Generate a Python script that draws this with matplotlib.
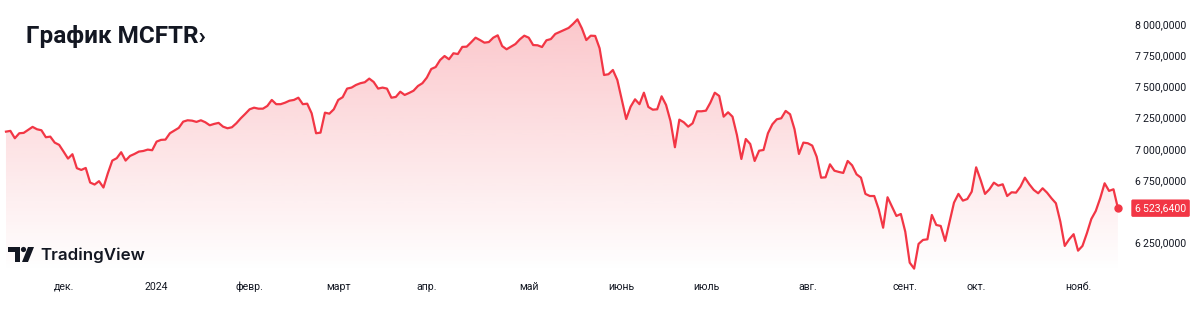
import numpy as np
import matplotlib
matplotlib.use('Agg')
import matplotlib.pyplot as plt
from matplotlib.patches import Polygon, Circle
from matplotlib.colors import to_rgb
from matplotlib.transforms import blended_transform_factory

# MCFTR daily close, mid-Nov 2023 .. mid-Nov 2024
mcftr = [
    7137, 7143, 7084, 7124, 7127, 7151, 7175, 7156, 7148, 7092, 7097, 7049, 7031, 6977,
    6921, 6956, 6844, 6830, 6846, 6729, 6713, 6740, 6689, 6804, 6905, 6924, 6972, 6905,
    6942, 6958, 6977, 6982, 6993, 6988, 7057, 7071, 7073, 7124, 7145, 7167, 7217, 7228,
    7225, 7215, 7228, 7212, 7188, 7199, 7207, 7177, 7164, 7172, 7204, 7244,
    7279, 7316, 7329, 7321, 7321, 7343, 7391, 7357, 7357, 7369, 7385, 7391, 7409, 7357,
    7361, 7284, 7124, 7129, 7289, 7281, 7316, 7391, 7413, 7482, 7490, 7511, 7525, 7533,
    7562, 7535, 7482, 7490, 7482, 7409, 7415, 7457, 7431, 7447, 7465, 7503, 7525, 7570,
    7639, 7655, 7711, 7743, 7717, 7765, 7759, 7816, 7818, 7853,
    7890, 7871, 7850, 7855, 7890, 7909, 7823, 7797, 7818, 7839, 7877, 7906, 7890, 7831,
    7829, 7815, 7869, 7879, 7920, 7936, 7952, 7968, 8000, 8037, 7965, 7871, 7906, 7904,
    7805, 7591, 7597, 7631, 7551, 7396, 7238, 7337, 7396, 7357, 7449, 7335, 7313, 7316,
    7420, 7351, 7222, 7012, 7233, 7212, 7177, 7204, 7300, 7300,
    7305, 7369, 7449, 7423, 7257, 7292, 7257, 7110, 6918, 7078, 7038, 6902, 6984, 6990,
    7124, 7196, 7236, 7244, 7303, 7276, 7156, 6958, 7049, 7044, 7025, 6936, 6768, 6771,
    6875, 6824, 6814, 6806, 6902, 6867, 6795, 6768, 6638, 6621, 6621, 6515, 6367, 6611,
    6536, 6461, 6477, 6335, 6087, 6039, 6237, 6269, 6274, 6469,
    6389, 6381, 6261, 6416, 6568, 6638, 6584, 6597, 6656, 6851, 6750, 6638, 6675, 6728,
    6704, 6715, 6621, 6651, 6648, 6696, 6768, 6715, 6670, 6643, 6683, 6648, 6603, 6563,
    6416, 6221, 6274, 6315, 6183, 6221, 6323, 6437, 6501, 6603, 6723, 6662, 6675, 6523.64,
]
last_price = 6523.64

month_pos = [13, 34, 55, 75, 95, 118, 139, 158, 181, 203, 219, 242]
month_labels = ['дек.', '2024', 'февр.', 'март', 'апр.', 'май', 'июнь', 'июль',
                'авг.', 'сент.', 'окт.', 'нояб.']
price_ticks = [6250, 6750, 7000, 7250, 7500, 7750, 8000]

RED = '#f23645'
TXT = '#131722'

def fmt_price(v):
    s = f'{v:,.4f}'
    return s.replace(',', '\u2009').replace('.', ',')

plt.rcParams['font.family'] = ['Roboto', 'DejaVu Sans']

fig = plt.figure(figsize=(12, 3.19), dpi=100)
ax = fig.add_axes([0, 47 / 319, 1125 / 1200, 272 / 319])

x = np.arange(len(mcftr))
y = np.array(mcftr, dtype=float)
xlim = (-1.35, 252.6)
ylim = (6012, 8192)
ax.set_xlim(*xlim)
ax.set_ylim(*ylim)

# gradient area under the line
grad = np.zeros((256, 1, 4))
grad[..., :3] = to_rgb(RED)
grad[..., 3] = np.linspace(0.30, 0.0, 256).reshape(-1, 1)
im = ax.imshow(grad, extent=[xlim[0], xlim[1], ylim[0], ylim[1]], aspect='auto',
               origin='upper', zorder=1)
verts = np.column_stack([np.r_[x, x[::-1]], np.r_[y, np.full(len(x), ylim[0])]])
clip = Polygon(verts, closed=True, facecolor='none', edgecolor='none')
ax.add_patch(clip)
im.set_clip_path(clip)

ax.plot(x, y, color=RED, lw=1.6, zorder=3, solid_joinstyle='round')
ax.plot(x[-1], y[-1], 'o', color=RED, ms=5, zorder=4)

for s in ax.spines.values():
    s.set_visible(False)
ax.yaxis.tick_right()
ax.set_yticks(price_ticks)
ax.set_yticklabels([fmt_price(v) for v in price_ticks])
ax.set_xticks(month_pos)
ax.set_xticklabels(month_labels)
ax.tick_params(axis='both', length=0, labelsize=7.6, colors=TXT)
ax.tick_params(axis='y', pad=7.2)
ax.tick_params(axis='x', pad=7)

# last price label
tr = blended_transform_factory(ax.transAxes, ax.transData)
ax.text(1135 / 1125, last_price, fmt_price(last_price), transform=tr, ha='left',
        va='center', fontsize=7.6, color='white', clip_on=False, zorder=5,
        bbox=dict(boxstyle='round,pad=0.35,rounding_size=0.15', fc=RED, ec='none'))

# title
fig.text(26 / 1200, 1 - 37 / 319, 'График MCFTR›', fontsize=17.5, fontweight='bold',
         color=TXT, va='center', ha='left')

# TradingView logo
logo_ax = fig.add_axes([0, 0, 1, 1], facecolor='none')
logo_ax.set_xlim(0, 1200)
logo_ax.set_ylim(319, 0)
logo_ax.axis('off')
logo_ax.add_patch(Polygon([(8, 247), (20, 247), (20, 262), (15, 262), (15, 252), (8, 252)],
                          closed=True, fc=TXT, ec='none'))
logo_ax.add_patch(Circle((23.5, 249.5), 2.6, fc=TXT, ec='none'))
logo_ax.add_patch(Polygon([(28, 247), (34, 247), (28, 262), (22, 262)], closed=True,
                          fc=TXT, ec='none'))
logo_ax.text(40, 255, 'TradingView', fontsize=12.2, fontweight='semibold', color=TXT,
             va='center', ha='left', family=['Inter', 'DejaVu Sans'])

fig.savefig('out.png', dpi=100, facecolor='white')
